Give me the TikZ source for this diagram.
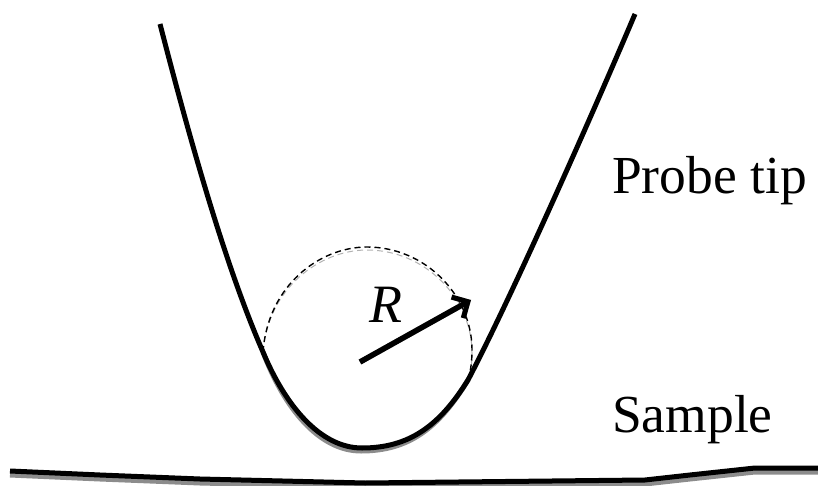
\documentclass[tikz,border=0pt]{standalone}
\usepackage{fontspec}
\setmainfont{Liberation Serif}
\usetikzlibrary{arrows.meta,positioning,calc}

\begin{document}
\begin{tikzpicture}[
  x=1pt,y=-1pt,
  label/.style={inner sep=0pt,anchor=base west,font=\fontsize{53.5}{60}\selectfont},
  curve/.style={line width=5pt,line join=round},
  shade/.style={line width=5pt,line join=round,black!45},
  arrow/.style={-{Straight Barb[length=12pt,width=24pt,line width=5pt]},line width=5.5pt}
]
\useasboundingbox (0,0) rectangle (818,486);
% positions
\coordinate (tipL) at (160,24);
\coordinate (tipR) at (635,14);
\coordinate (centre) at (360,362);
\coordinate (head) at (471,300);
\coordinate (touchL) at (263,352);
\coordinate (touchR) at (468,380);
% dashed circle, grey copy first
\draw[black!30,line width=1pt,dash pattern=on 6pt off 4pt,shift={(0,3)}] (touchL) .. controls (268,285) and (320,247) .. (367,247) .. controls (425,247) and (472,295) .. (472,350) .. controls (472,360) and (471,370) .. (touchR);
\draw[line width=1.4pt,dash pattern=on 6pt off 4pt] (touchL) .. controls (268,285) and (320,247) .. (367,247) .. controls (425,247) and (472,295) .. (472,350) .. controls (472,360) and (471,370) .. (touchR);
% probe tip
\draw[shade,shift={(-1,3)}] (touchL) .. controls (285,405) and (320,448) .. (362,448) .. controls (410,448) and (440,425) .. (touchR);
\draw[curve] (tipL) .. controls (190,140) and (225,265) .. (touchL) .. controls (285,405) and (320,448) .. (362,448) .. controls (410,448) and (440,425) .. (touchR) .. controls (510,300) and (590,120) .. (tipR);
% sample
\draw[shade,shift={(0,4)}] (10,471) -- (100,475) -- (200,479) -- (365,483) -- (645,480) -- (690,475) -- (755,468) -- (818,468);
\draw[curve] (10,471) -- (100,475) -- (200,479) -- (365,483) -- (645,480) -- (690,475) -- (755,468) -- (818,468);
% radius
\draw[arrow,black!30,shift={(1,2)}] (centre) -- (head);
\draw[arrow] (centre) -- (head);
\node[inner sep=0pt,anchor=base west,font=\fontsize{54}{60}\selectfont\itshape] (radius) at (369,322) {R};
\node[label] (probe) at (612,194) {Probe tip};
\node[label] (sample) at (612,432) {Sample};
\end{tikzpicture}
\end{document}
